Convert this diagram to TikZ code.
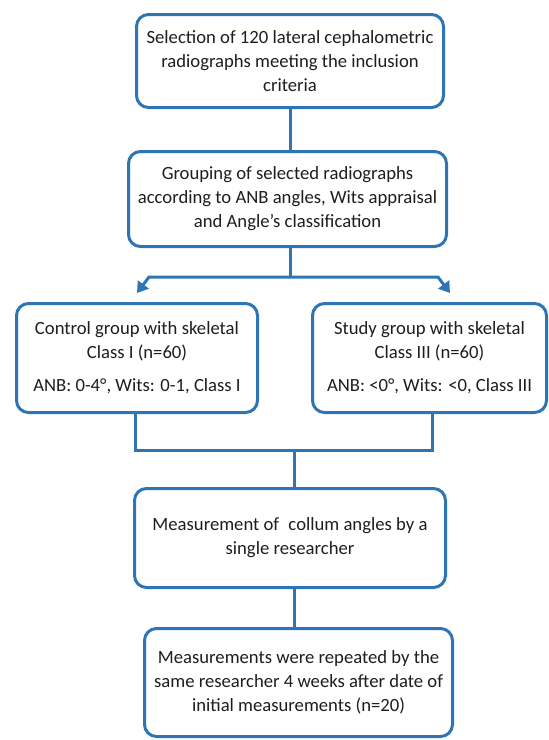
\documentclass[tikz,border=0pt]{standalone}
\usepackage{fontspec}
\setmainfont{Carlito}
\usepackage{tikz}
\usetikzlibrary{arrows.meta,positioning}
\definecolor{flowblue}{RGB}{46,117,182}
\definecolor{inktext}{RGB}{30,30,30}
\tikzset{
  stage/.style={draw=flowblue,line width=2.25pt,rounded corners=9pt,fill=white,align=center,
    text=inktext,font=\fontsize{14}{18}\selectfont,inner sep=0pt},
  link/.style={draw=flowblue,line width=2.25pt},
  arr/.style={link,-{Triangle[length=8pt,width=10pt]}}
}

\begin{document}
\begin{tikzpicture}[x=0.75pt,y=-0.75pt]
  \useasboundingbox (0,0) rectangle (549,740);
  \node[stage,minimum width=230.25pt,minimum height=69.75pt] (select) at (290,61)
    {Selection of 120 lateral cephalometric\\radiographs meeting the inclusion\\criteria};
  \node[stage,minimum width=238.5pt,minimum height=71.25pt] (group) at (287.5,199)
    {Grouping of selected radiographs\\according to ANB angles, Wits appraisal\\and Angle’s classification};
  \node[stage,minimum width=180.75pt,minimum height=81.75pt] (control) at (137,358)
    {Control group with skeletal\\Class I (n=60)\\[7pt]ANB: 0-4°, Wits: 0-1, Class I};
  \node[stage,minimum width=175.5pt,minimum height=81.75pt] (study) at (429.5,358)
    {Study group with skeletal\\Class III (n=60)\\[7pt]ANB: <0°, Wits: <0, Class III};
  \node[stage,minimum width=233.25pt,minimum height=74.25pt] (measure) at (290,538)
    {Measurement of\hspace{0.5em}collum angles by a\\single researcher};
  \node[stage,minimum width=231pt,minimum height=81pt] (repeat) at (298.5,682.5)
    {Measurements were repeated by the\\same researcher 4 weeks after date of\\initial measurements (n=20)};

  \coordinate (split) at (290,277);
  \coordinate (merge) at (294,450);

  \draw[link] (select.south -| split) -- (split |- group.north);
  \draw[link] (group.south -| split) -- (split);
  \draw[arr] (split) -- (149,277) -- (137,293);
  \draw[arr] (split) -- (438,277) -- (450,293);
  \draw[link] ([xshift=-1.5pt]control.south) |- (merge);
  \draw[link] ([xshift=2.6pt]study.south) |- (merge);
  \draw[link] (merge) -- (merge |- measure.north);
  \draw[link] (measure.south -| merge) -- (merge |- repeat.north);
\end{tikzpicture}
\end{document}
